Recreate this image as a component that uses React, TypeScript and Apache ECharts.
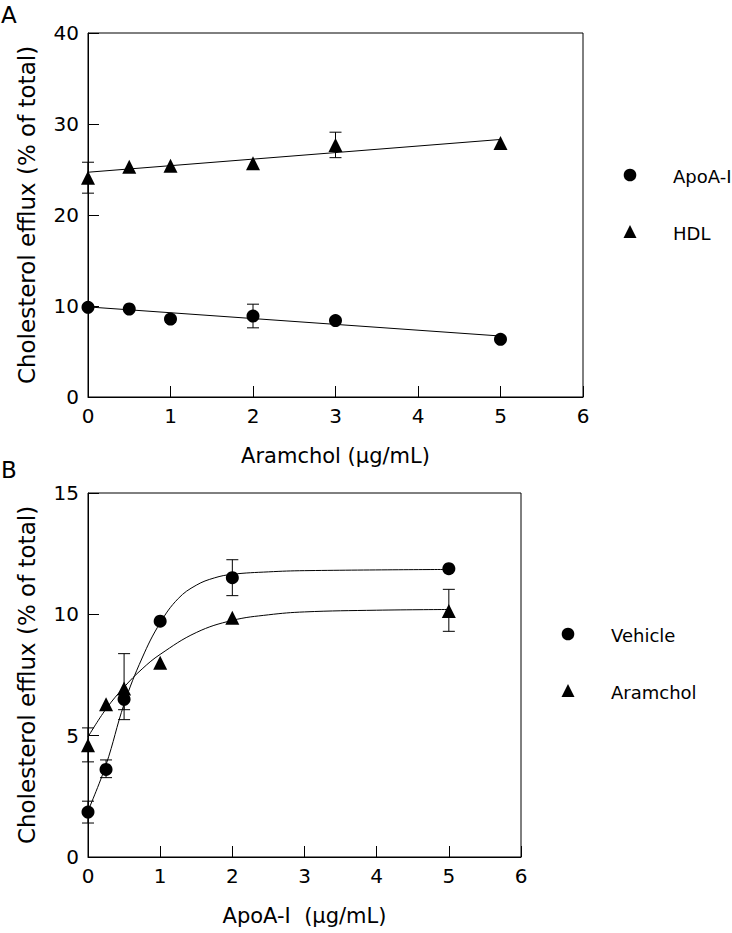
import React, { useEffect, useRef } from "react";
import * as echarts from "echarts";

// Panel A: Aramchol dose (µg/mL)
const doseA = [0, 0.5, 1, 2, 3, 5];
const apoAI = [9.85, 9.67, 8.57, 8.9, 8.4, 6.34];
const apoAIErr = [0, 0, 0, 1.3, 0, 0];
const hdl = [24.1, 25.3, 25.4, 25.7, 27.7, 27.9];
const hdlErr = [1.7, 0, 0, 0, 1.4, 0];
const apoAIFit = [[0, 9.9], [5, 6.7]];
const hdlFit = [[0, 24.7], [5, 28.3]];

// Panel B: ApoA-I dose (µg/mL)
const doseB = [0, 0.25, 0.5, 1, 2, 5];
const vehicle = [1.85, 3.61, 6.5, 9.72, 11.51, 11.88];
const vehicleLo = [1.4, 3.27, 5.66, 9.72, 10.77, 11.88];
const vehicleHi = [2.3, 4.0, 6.5, 9.72, 12.25, 11.88];
const aramchol = [4.6, 6.29, 6.94, 8.0, 9.86, 10.14];
const aramcholLo = [3.92, 6.29, 6.07, 8.0, 9.86, 9.3];
const aramcholHi = [5.32, 6.29, 8.38, 8.0, 9.86, 11.03];
const vehicleFit = [[0, 1.9], [0.25, 3.8], [0.5, 6.3], [0.75, 8.2], [1, 9.65], [1.25, 10.65], [1.5, 11.2], [1.75, 11.5], [2, 11.65], [2.5, 11.75], [3, 11.8], [5, 11.85]];
const aramcholFit = [[0, 4.95], [0.25, 6.1], [0.5, 7.0], [0.75, 7.75], [1, 8.35], [1.5, 9.25], [2, 9.75], [2.5, 9.98], [3, 10.1], [4, 10.17], [5, 10.2]];

const yTitle = "Cholesterol efflux (% of total)";
const xTitleA = "Aramchol (μg/mL)";
const xTitleB = "ApoA-I  (μg/mL)";

const FONT = "'DejaVu Sans', 'Liberation Sans', Arial, sans-serif";

const errRender = (params: any, api: any) => {
  const x = api.value(0);
  const lo = api.value(1);
  const hi = api.value(2);
  if (hi - lo < 1e-6) return null;
  const pHi = api.coord([x, hi]);
  const pLo = api.coord([x, lo]);
  const w = 6;
  const style = { stroke: "#000", lineWidth: 1 };
  return {
    type: "group",
    children: [
      { type: "line", shape: { x1: pHi[0], y1: pHi[1], x2: pLo[0], y2: pLo[1] }, style },
      { type: "line", shape: { x1: pHi[0] - w, y1: pHi[1], x2: pHi[0] + w, y2: pHi[1] }, style },
      { type: "line", shape: { x1: pLo[0] - w, y1: pLo[1], x2: pLo[0] + w, y2: pLo[1] }, style },
    ],
  };
};

export default function App() {
  const ref = useRef<HTMLDivElement>(null);
  useEffect(() => {
    if (!ref.current) return;
    const chart = echarts.init(ref.current, null, { renderer: "svg" });

    const axisCommon = {
      axisLine: { lineStyle: { color: "#000", width: 1 } },
      axisTick: { inside: true, length: 11, lineStyle: { color: "#000" } },
      splitLine: { show: false },
      axisLabel: { color: "#000", fontSize: 20, fontFamily: FONT },
      nameTextStyle: { color: "#000", fontSize: 21, fontFamily: FONT },
    };
    const yName = { ...axisCommon.nameTextStyle, fontSize: 23 };

    const errA1 = doseA.map((d, i) => [d, apoAI[i] - apoAIErr[i], apoAI[i] + apoAIErr[i]]);
    const errA2 = doseA.map((d, i) => [d, hdl[i] - hdlErr[i], hdl[i] + hdlErr[i]]);
    const errB1 = doseB.map((d, i) => [d, vehicleLo[i], vehicleHi[i]]);
    const errB2 = doseB.map((d, i) => [d, aramcholLo[i], aramcholHi[i]]);

    const markers = (name: string, symbol: string, size: number, xs: number[], ys: number[], idx: number) => ({
      name,
      type: "scatter",
      xAxisIndex: idx,
      yAxisIndex: idx,
      symbol,
      symbolSize: size,
      itemStyle: { color: "#000", opacity: 1 },
      data: xs.map((x, i) => [x, ys[i]]),
      z: 5,
    });
    const fitLine = (data: number[][], idx: number, smooth: any) => ({
      type: "line",
      xAxisIndex: idx,
      yAxisIndex: idx,
      data,
      smooth,
      showSymbol: false,
      lineStyle: { color: "#000", width: 1 },
      z: 3,
    });
    const errSeries = (data: number[][], idx: number) => ({
      type: "custom",
      xAxisIndex: idx,
      yAxisIndex: idx,
      data,
      renderItem: errRender,
      z: 4,
    });

    const legendItem = (x: number, y: number, shape: string, label: string, tx: number) => {
      const icon =
        shape === "circle"
          ? { type: "circle", shape: { cx: x, cy: y, r: 6.3 }, style: { fill: "#000" } }
          : { type: "polygon", shape: { points: [[x, y - 7], [x - 6.5, y + 6], [x + 6.5, y + 6]] }, style: { fill: "#000" } };
      return [
        icon,
        { type: "text", x: tx, y: y + 1, style: { text: label, fill: "#000", fontSize: 18, fontFamily: FONT, verticalAlign: "middle" } },
      ];
    };

    chart.setOption({
      animation: false,
      backgroundColor: "#fff",
      grid: [
        { left: 88, top: 33, width: 495, height: 364, show: true, borderColor: "#000", borderWidth: 1, backgroundColor: "transparent" },
        { left: 88, top: 493, width: 433, height: 364, show: true, borderColor: "#000", borderWidth: 1, backgroundColor: "transparent" },
      ],
      xAxis: [
        { ...axisCommon, type: "value", gridIndex: 0, min: 0, max: 6, interval: 1, name: xTitleA, nameLocation: "middle", nameGap: 48, axisLabel: { ...axisCommon.axisLabel, margin: 9 } },
        { ...axisCommon, type: "value", gridIndex: 1, min: 0, max: 6, interval: 1, name: xTitleB, nameLocation: "middle", nameGap: 48, axisLabel: { ...axisCommon.axisLabel, margin: 9 } },
      ],
      yAxis: [
        { ...axisCommon, type: "value", gridIndex: 0, min: 0, max: 40, interval: 10, name: yTitle, nameLocation: "middle", nameRotate: 90, nameGap: 50, nameTextStyle: yName, axisLabel: { ...axisCommon.axisLabel, margin: 9 } },
        { ...axisCommon, type: "value", gridIndex: 1, min: 0, max: 15, interval: 5, name: yTitle, nameLocation: "middle", nameRotate: 90, nameGap: 50, nameTextStyle: yName, axisLabel: { ...axisCommon.axisLabel, margin: 9 } },
      ],
      series: [
        fitLine(apoAIFit, 0, false),
        fitLine(hdlFit, 0, false),
        errSeries(errA1, 0),
        errSeries(errA2, 0),
        markers("ApoA-I", "circle", 13, doseA, apoAI, 0),
        markers("HDL", "triangle", 14, doseA, hdl, 0),
        fitLine(vehicleFit, 1, 0.4),
        fitLine(aramcholFit, 1, 0.4),
        errSeries(errB1, 1),
        errSeries(errB2, 1),
        markers("Vehicle", "circle", 13, doseB, vehicle, 1),
        markers("Aramchol", "triangle", 14, doseB, aramchol, 1),
      ],
      graphic: [
        { type: "text", left: 1, top: 3, style: { text: "A", fontSize: 23, fill: "#000", fontFamily: FONT } },
        { type: "text", left: 1, top: 458, style: { text: "B", fontSize: 23, fill: "#000", fontFamily: FONT } },
        ...legendItem(630, 175, "circle", "ApoA-I", 673),
        ...legendItem(630, 232, "triangle", "HDL", 673),
        ...legendItem(568, 634, "circle", "Vehicle", 611),
        ...legendItem(568, 691, "triangle", "Aramchol", 611),
      ],
    });
    return () => chart.dispose();
  }, []);
  return <div ref={ref} style={{ width: 732, height: 933, position: "absolute", left: 0, top: 0 }} />;
}
